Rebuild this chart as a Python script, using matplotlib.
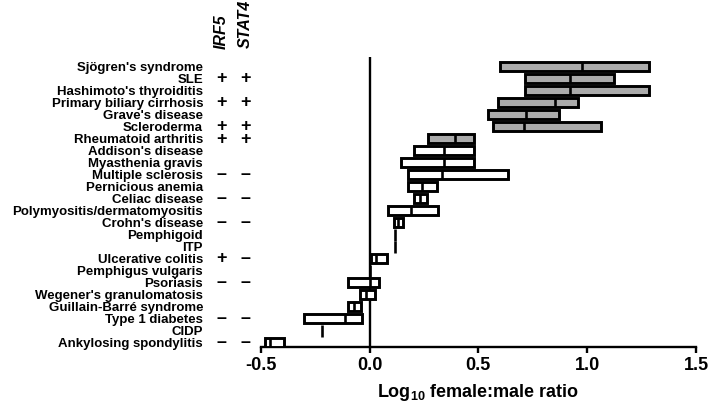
import matplotlib
matplotlib.use("Agg")
import matplotlib.pyplot as plt
from matplotlib.font_manager import FontProperties

diseases = ["Sjögren's syndrome", "SLE", "Hashimoto's thyroiditis", "Primary biliary cirrhosis",
            "Grave's disease", "Scleroderma", "Rheumatoid arthritis", "Addison's disease",
            "Myasthenia gravis", "Multiple sclerosis", "Pernicious anemia", "Celiac disease",
            "Polymyositis/dermatomyositis", "Crohn's disease", "Pemphigoid", "ITP",
            "Ulcerative colitis", "Pemphigus vulgaris", "Psoriasis", "Wegener's granulomatosis",
            "Guillain-Barré syndrome", "Type 1 diabetes", "CIDP", "Ankylosing spondylitis"]
mins = [0.601, 0.716, 0.716, 0.590, 0.544, 0.567, 0.269, 0.204, 0.145, 0.177, 0.177, 0.204,
        0.086, 0.112, 0.115, 0.115, 0.005, 0.0, -0.097, -0.046, -0.098, -0.301, -0.220, -0.482]
medians = [0.978, 0.919, 0.919, 0.853, 0.719, 0.709, 0.393, 0.341, 0.341, 0.332, 0.239, 0.231,
           0.191, 0.131, 0.115, 0.115, 0.028, 0.0, 0.0, -0.014, -0.070, -0.113, -0.220, -0.457]
maxs = [1.283, 1.121, 1.283, 0.960, 0.872, 1.064, 0.482, 0.482, 0.482, 0.636, 0.310, 0.265,
        0.313, 0.153, 0.115, 0.115, 0.081, 0.0, 0.043, 0.023, -0.041, -0.034, -0.220, -0.393]
shaded = [True] * 7 + [False] * 17
irf5 = ["", "+", "", "+", "", "+", "+", "", "", "–", "", "–", "", "–", "", "", "+", "", "–",
        "", "", "–", "", "–"]
stat4 = ["", "+", "", "+", "", "+", "+", "", "", "–", "", "–", "", "–", "", "", "–", "", "–",
         "", "", "–", "", "–"]
xticks = [-0.5, 0.0, 0.5, 1.0, 1.5]

plt.rcParams['font.family'] = ['Liberation Sans', 'DejaVu Sans']
plt.rcParams['font.weight'] = 'bold'
plt.rcParams['mathtext.fontset'] = 'custom'
plt.rcParams['mathtext.bf'] = 'Liberation Sans:bold'
plt.rcParams['mathtext.rm'] = 'Liberation Sans:bold'
plt.rcParams['mathtext.default'] = 'bf'

W, H = 714, 407
fig = plt.figure(figsize=(W / 100, H / 100), dpi=100)
ax = fig.add_axes([260.7 / W, 1 - 347 / H, (696 - 260.7) / W, (347 - 57) / H])

n = len(diseases)
ys = [n - 1 - i for i in range(n)]
bh = 0.70
lw = 2.1
for y, lo, md, hi, sh in zip(ys, mins, medians, maxs, shaded):
    if hi - lo > 1e-9:
        ax.barh(y, hi - lo, left=lo, height=bh, color='#ababab' if sh else 'white',
                edgecolor='black', linewidth=lw, zorder=3)
        ax.plot([md, md], [y - bh / 2, y + bh / 2], color='black', lw=lw * 0.9, zorder=4,
                solid_capstyle='butt')
    else:
        ax.plot([md, md], [y - 0.5, y + 0.5], color='black', lw=lw * 0.9, zorder=4,
                solid_capstyle='butt')

ax.axvline(0, color='black', lw=1.7, zorder=2)

ax.set_xlim(-0.5, 1.5)
ax.set_ylim(-0.36, 23.8)
ax.set_xticks(xticks)
ax.set_xticklabels([f"{v:.1f}" for v in xticks], fontsize=13, fontweight='bold')
ax.tick_params(axis='x', length=4, width=1.7, pad=3)
ax.set_yticks(ys)
ax.set_yticklabels(diseases, fontsize=9.5, fontweight='bold')
ax.tick_params(axis='y', length=0, pad=41.5)
for s in ['top', 'right', 'left']:
    ax.spines[s].set_visible(False)
ax.spines['bottom'].set_linewidth(1.7)
ax.set_xlabel(r"Log$_{10}$ female:male ratio", fontsize=13, fontweight='bold', labelpad=6)

# +/- columns; consecutive symbols in a column are set as one multi-line text
sym_size = 13
fp = FontProperties(family=['Liberation Sans', 'DejaVu Sans'], weight='bold', size=sym_size)
renderer = fig.canvas.get_renderer()
t1 = ax.text(0, 0, "+", fontproperties=fp, linespacing=1.0)
t2 = ax.text(0, 0, "+\n+", fontproperties=fp, linespacing=1.0)
k = t2.get_window_extent(renderer).height - t1.get_window_extent(renderer).height
t1.remove()
t2.remove()
row_px = abs(ax.transData.transform((0, 1))[1] - ax.transData.transform((0, 0))[1])
spacing = row_px / k

x_irf5 = -0.5 + (221 - 260.7) / 218
x_stat4 = -0.5 + (245.7 - 260.7) / 218
for xc, col in [(x_irf5, irf5), (x_stat4, stat4)]:
    runs = []
    cur = []
    for i, s in enumerate(col):
        if s:
            cur.append(i)
        elif cur:
            runs.append(cur)
            cur = []
    if cur:
        runs.append(cur)
    for run in runs:
        yc = sum(ys[i] for i in run) / len(run)
        ax.text(xc, yc, "\n".join(col[i] for i in run), ha='center', va='center',
                fontproperties=fp, linespacing=spacing, clip_on=False)

fig.text(221 / W, 1 - 49 / H, "IRF5", rotation=90, ha='center', va='bottom',
         fontsize=11.5, fontweight='bold', style='italic')
fig.text(245.7 / W, 1 - 48 / H, "STAT4", rotation=90, ha='center', va='bottom',
         fontsize=11.5, fontweight='bold', style='italic')

fig.savefig("out.png", dpi=100)
